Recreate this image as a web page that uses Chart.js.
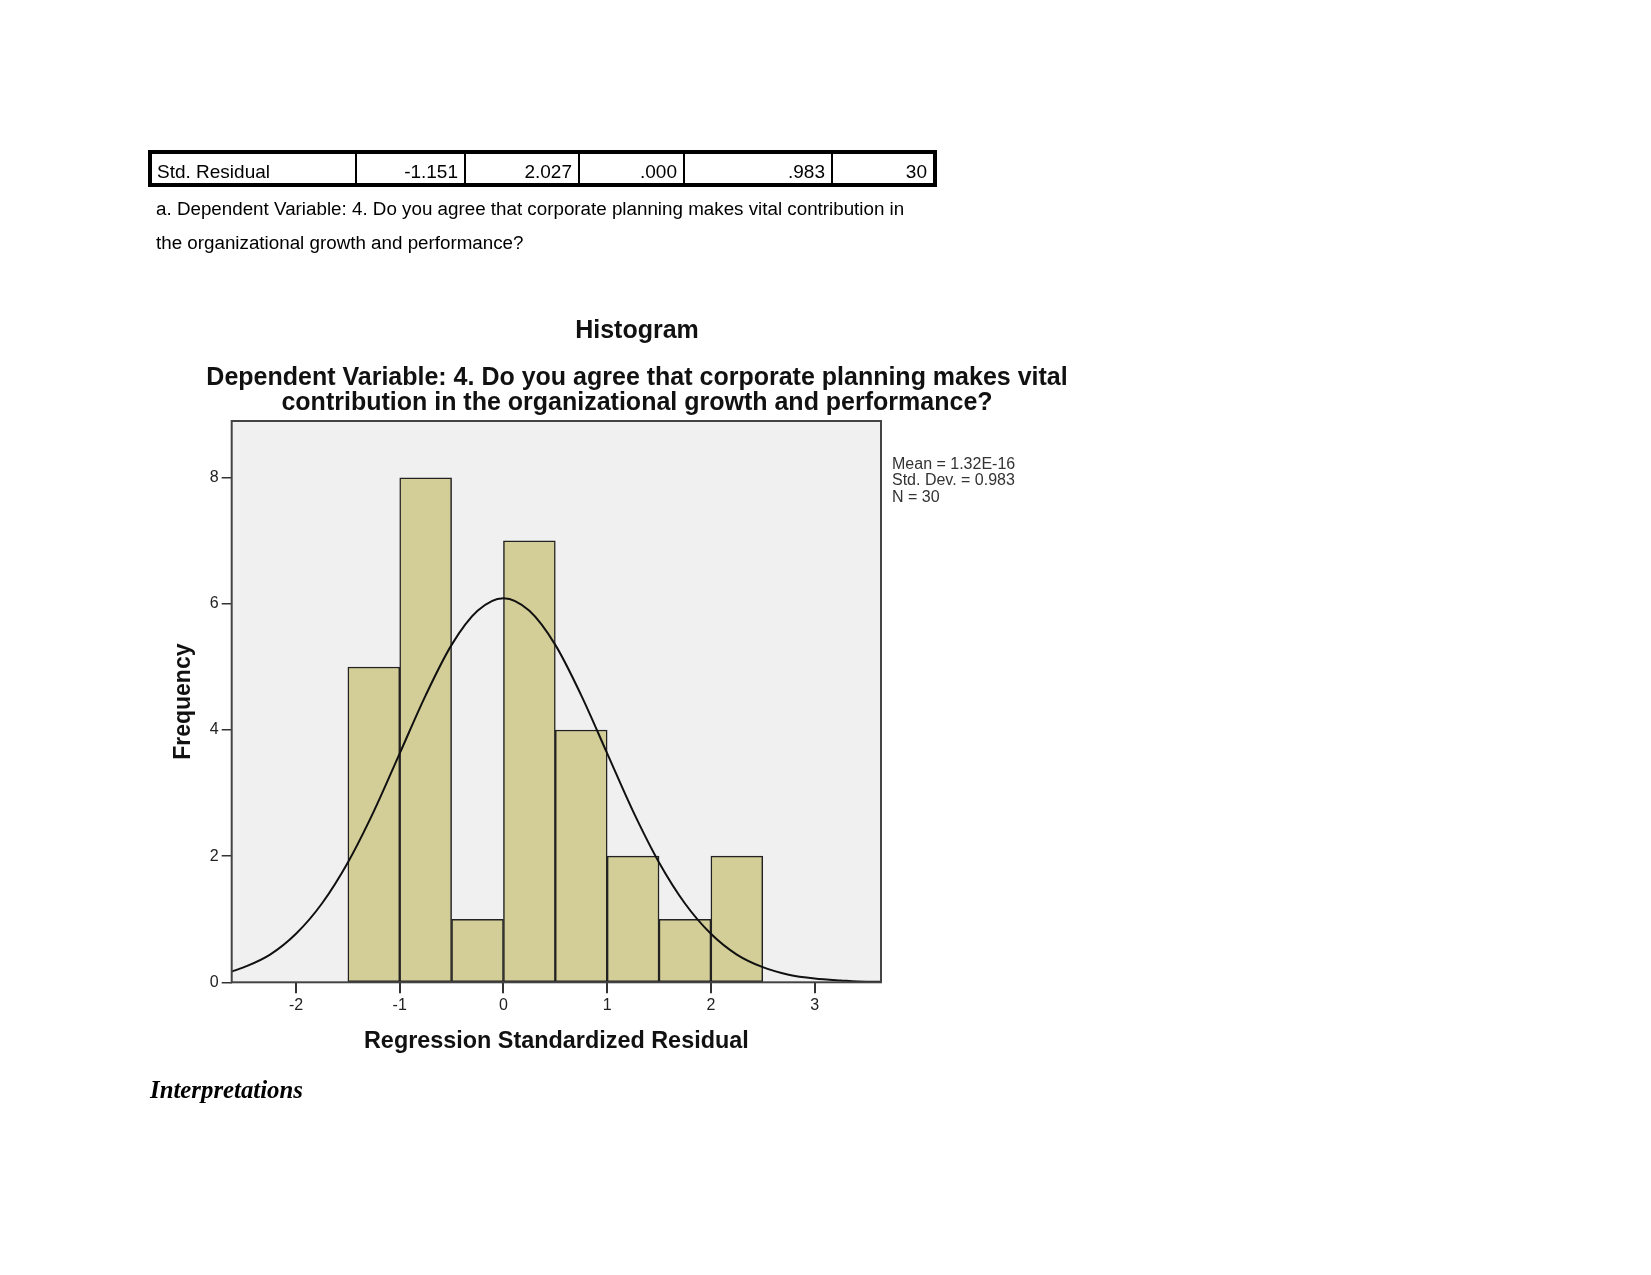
<!DOCTYPE html>
<html>
<head>
<meta charset="utf-8">
<script src="https://cdn.jsdelivr.net/npm/chart.js@4.4.0/dist/chart.umd.min.js"></script>
<style>
  body { margin: 0; background: #fff; width: 1651px; height: 1275px; overflow: hidden; position: relative; font-family: 'Liberation Sans', Arial, sans-serif; }
  #histo { position: absolute; left: 0; top: 0; z-index: 0; }
  .txt { position: absolute; white-space: nowrap; z-index: 1; }
  #statTable { position: absolute; left: 148px; top: 150px; width: 789px; height: 37px; box-sizing: border-box; border: 4px solid #000; z-index: 1; }
  #statTable div { position: absolute; top: 0; height: 29px; line-height: 29px; font-size: 19px; color: #000; box-sizing: border-box; padding-top: 3px; }
  .note { left: 156px; font-size: 18.8px; color: #000; }
  .ctitle { left: 137px; width: 1000px; text-align: center; font-weight: bold; font-size: 25px; line-height: 25px; color: #111; }
  #stats { left: 892px; top: 455.5px; font-size: 16px; line-height: 16.7px; color: #333; }
  #interp { left: 150px; top: 1076px; font-family: 'Liberation Serif', 'Times New Roman', serif; font-style: italic; font-weight: bold; font-size: 24.8px; }
</style>
</head>
<body>
<div id="statTable"></div>
<div class="txt note" style="top:198px">a. Dependent Variable: 4. Do you agree that corporate planning makes vital contribution in</div>
<div class="txt note" style="top:232px">the organizational growth and performance?</div>
<div class="txt ctitle" id="mainTitle" style="top:317px"></div>
<div class="txt ctitle" id="subTitle" style="top:363.5px"></div>
<div class="txt" id="stats"></div>
<div class="txt" id="interp">Interpretations</div>
<canvas id="histo" width="1651" height="1275"></canvas>
<script>
// residual summary row (table above the chart)
const tableRow = ['Std. Residual', '-1.151', '2.027', '.000', '.983', '30'];
const tableCols = [152, 355, 464, 578, 683, 831, 933]; // cell edges

// histogram bins (width 0.5) and their counts
const binCenters = [-1.25, -0.75, -0.25, 0.25, 0.75, 1.25, 1.75, 2.25];
const frequencies = [5, 8, 1, 7, 4, 2, 1, 2];

// normal curve
const curveX = [-2.62, -2.5, -2.25, -2.0, -1.75, -1.5, -1.25, -1.0, -0.75, -0.5, -0.25, 0.0,
  0.25, 0.5, 0.75, 1.0, 1.25, 1.5, 1.75, 2.0, 2.25, 2.5, 2.75, 3.0, 3.25, 3.5, 3.64];
const curveY = [0.17, 0.24, 0.44, 0.77, 1.25, 1.90, 2.71, 3.63, 4.55, 5.35, 5.89, 6.09,
  5.89, 5.35, 4.55, 3.63, 2.71, 1.90, 1.25, 0.77, 0.44, 0.24, 0.12, 0.06, 0.03, 0.01, 0.01];

const xTicks = [-2, -1, 0, 1, 2, 3];
const yTicks = [0, 2, 4, 6, 8];

const chartTitle = 'Histogram';
const chartSubtitle = ['Dependent Variable: 4. Do you agree that corporate planning makes vital',
  'contribution in the organizational growth and performance?'];
const statsLines = ['Mean = 1.32E-16', 'Std. Dev. = 0.983', 'N = 30'];

// build the table row
const tbl = document.getElementById('statTable');
tableRow.forEach((val, i) => {
  const cell = document.createElement('div');
  const left = tableCols[i] - 152;
  cell.style.left = left + 'px';
  cell.style.width = (tableCols[i + 1] - tableCols[i]) + 'px';
  if (i > 0) cell.style.borderLeft = '2px solid #000';
  if (i == 0) {
    cell.style.paddingLeft = '5px';
  } else {
    cell.style.textAlign = 'right';
    cell.style.paddingRight = '6px';
  }
  cell.textContent = val;
  tbl.appendChild(cell);
});

document.getElementById('mainTitle').textContent = chartTitle;
document.getElementById('subTitle').innerHTML = chartSubtitle.join('<br>');
document.getElementById('stats').innerHTML = statsLines.join('<br>');

Chart.defaults.font.family = "'Liberation Sans', Arial, sans-serif";
Chart.defaults.color = '#222';

const plotFrame = {
  id: 'plotFrame',
  beforeDraw(chart) {
    const { ctx, chartArea: a } = chart;
    ctx.save();
    ctx.fillStyle = '#f0f0f0';
    ctx.fillRect(a.left, a.top, a.right - a.left, a.bottom - a.top);
    ctx.restore();
  },
  afterDraw(chart) {
    const { ctx, chartArea: a } = chart;
    ctx.save();
    ctx.strokeStyle = '#444';
    ctx.lineWidth = 2;
    ctx.strokeRect(a.left, a.top, a.right - a.left, a.bottom - a.top);
    ctx.restore();
  }
};

const histChart = new Chart(document.getElementById('histo'), {
  type: 'bar',
  data: {
    datasets: [
      {
        type: 'line',
        data: curveX.map((x, i) => ({ x: x, y: curveY[i] })),
        borderColor: '#111',
        borderWidth: 2,
        pointRadius: 0,
        cubicInterpolationMode: 'monotone',
        order: 0
      },
      {
        type: 'bar',
        data: binCenters.map((x, i) => ({ x: x, y: frequencies[i] })),
        backgroundColor: '#d3ce97',
        borderColor: '#222',
        borderWidth: 1.5,
        borderSkipped: false,
        barPercentage: 1,
        categoryPercentage: 1,
        order: 1
      }
    ]
  },
  options: {
    responsive: false,
    animation: false,
    layout: { padding: { left: 170.3, top: 421, right: 770, bottom: 219.8 } },
    plugins: { legend: { display: false }, tooltip: { enabled: false } },
    scales: {
      x: {
        type: 'linear',
        min: -2.62,
        max: 3.64,
        offset: false,
        afterBuildTicks: s => { s.ticks = xTicks.map(v => ({ value: v })); },
        afterFit: s => { s.height = 72.9; },
        grid: { offset: false, drawOnChartArea: false, drawTicks: true, tickLength: 11, color: '#333', lineWidth: 2 },
        border: { display: false },
        ticks: { padding: 3, font: { size: 16 }, color: '#222' },
        title: { display: true, text: 'Regression Standardized Residual', font: { size: 23.4, weight: 'bold' }, color: '#111', padding: 0 }
      },
      y: {
        min: 0,
        max: 8.9,
        afterBuildTicks: s => { s.ticks = yTicks.map(v => ({ value: v })); },
        afterFit: s => { s.width = 61.4; },
        grid: { drawOnChartArea: false, drawTicks: true, tickLength: 10, color: '#333', lineWidth: 1.5 },
        border: { display: false },
        ticks: { padding: 3, font: { size: 16 }, color: '#222' },
        title: { display: true, text: 'Frequency', font: { size: 23, weight: 'bold' }, color: '#111', padding: 0 }
      }
    }
  },
  plugins: [plotFrame]
});
</script>
</body>
</html>
